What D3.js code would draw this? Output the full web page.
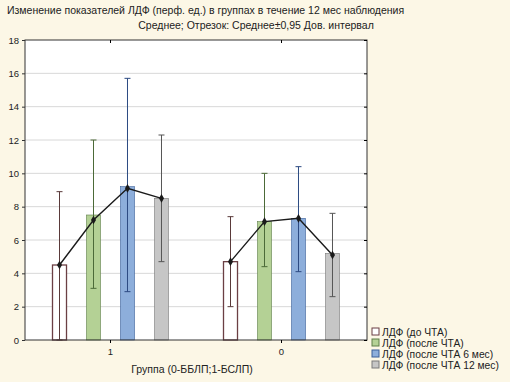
<!DOCTYPE html>
<html>
<head>
<meta charset="utf-8">
<script src="https://cdn.jsdelivr.net/npm/d3@7"></script>
<style>
  body { margin: 0; background: #fcf7e6; }
  svg { display: block; font-family: 'Liberation Sans', Arial, sans-serif; }
</style>
</head>
<body>
<div id="chart"></div>
<script>
// groups on the x axis
const groups = ['1', '0']
const series = ['ЛДФ (до ЧТА)', 'ЛДФ (после ЧТА)', 'ЛДФ (после ЧТА 6 мес)', 'ЛДФ (после ЧТА 12 мес)']

// bar means per group, in series order
const means = {
  1: [4.5, 7.5, 9.2, 8.5],
  0: [4.7, 7.1, 7.3, 5.2]
}
// line markers (mean points)
const lineMeans = {
  1: [4.5, 7.2, 9.1, 8.5],
  0: [4.7, 7.1, 7.3, 5.1]
}
// 95% CI bounds
const ciLow = {
  1: [0.0, 3.1, 2.9, 4.7],
  0: [2.0, 4.4, 4.1, 2.6]
}
const ciHigh = {
  1: [8.9, 12.0, 15.7, 12.3],
  0: [7.4, 10.0, 10.4, 7.6]
}
const yTicks = [0, 2, 4, 6, 8, 10, 12, 14, 16, 18]

const fills = ['#ffffff', '#b4d195', '#8daedb', '#c6c6c6']
const strokes = ['#6b3f44', '#5f7e49', '#3b5f98', '#7a7a7a']
const errColors = ['#5a3a3a', '#4c6a38', '#2c4a82', '#555555']

const W = 510
const H = 382
const margin = { top: 40, right: 143, bottom: 42, left: 25 }
const width = W - margin.left - margin.right
const height = H - margin.top - margin.bottom

const svg = d3.select('#chart').append('svg')
  .attr('width', W)
  .attr('height', H)

// titles
svg.append('text')
  .attr('x', 7).attr('y', 14)
  .style('font-size', '10.5px').attr('fill', '#222')
  .text('Изменение показателей ЛДФ (перф. ед.) в группах в течение 12 мес наблюдения')
svg.append('text')
  .attr('x', 256).attr('y', 29)
  .attr('text-anchor', 'middle')
  .style('font-size', '10.5px').attr('fill', '#222')
  .text('Среднее; Отрезок: Среднее±0,95 Дов. интервал')

const g = svg.append('g').attr('transform', `translate(${margin.left},${margin.top})`)

const x = d3.scaleBand().domain(groups).range([0, width])
const xs = d3.scaleBand().domain(d3.range(series.length)).range([-58, 58]).paddingInner(0.588).paddingOuter(0)
const y = d3.scaleLinear().domain([0, 18]).range([height, 0])

g.append('rect')
  .attr('width', width).attr('height', height)
  .attr('fill', '#fff')

// gridlines
g.append('g')
  .selectAll('line')
  .data(yTicks.slice(1, -1))
  .join('line')
  .attr('x1', 0).attr('x2', width)
  .attr('y1', d => y(d)).attr('y2', d => y(d))
  .attr('stroke', '#d8d8d8')

// bars
groups.forEach(gr => {
  const cx = x(gr) + x.bandwidth() / 2
  const gg = g.append('g').attr('transform', `translate(${cx},0)`)
  gg.selectAll('rect.bar')
    .data(means[gr])
    .join('rect')
    .attr('class', 'bar')
    .attr('x', (d, i) => xs(i))
    .attr('width', xs.bandwidth())
    .attr('y', d => y(d))
    .attr('height', d => y(0) - y(d))
    .attr('fill', (d, i) => fills[i])
    .attr('stroke', (d, i) => strokes[i])
    .attr('stroke-width', (d, i) => i === 0 ? 1.3 : 0.6)

  // error bars
  const eb = gg.selectAll('g.err')
    .data(means[gr].map((d, i) => ({ i, lo: ciLow[gr][i], hi: ciHigh[gr][i] })))
    .join('g')
    .attr('class', 'err')
    .attr('stroke', d => errColors[d.i])
    .attr('stroke-width', 1)
  eb.append('line')
    .attr('x1', d => xs(d.i) + xs.bandwidth() / 2).attr('x2', d => xs(d.i) + xs.bandwidth() / 2)
    .attr('y1', d => y(d.lo)).attr('y2', d => y(d.hi))
  eb.append('line')
    .attr('x1', d => xs(d.i) + xs.bandwidth() / 2 - 3).attr('x2', d => xs(d.i) + xs.bandwidth() / 2 + 3)
    .attr('y1', d => y(d.hi)).attr('y2', d => y(d.hi))
  eb.append('line')
    .attr('x1', d => xs(d.i) + xs.bandwidth() / 2 - 3).attr('x2', d => xs(d.i) + xs.bandwidth() / 2 + 3)
    .attr('y1', d => y(d.lo)).attr('y2', d => y(d.lo))

  // mean line with markers
  const pts = lineMeans[gr].map((v, i) => [xs(i) + xs.bandwidth() / 2, y(v)])
  gg.append('path')
    .attr('d', d3.line()(pts))
    .attr('fill', 'none')
    .attr('stroke', '#1a1a1a')
    .attr('stroke-width', 1.4)
  gg.selectAll('path.mk')
    .data(pts)
    .join('path')
    .attr('class', 'mk')
    .attr('transform', d => `translate(${d[0]},${d[1]})`)
    .attr('d', d3.symbol(d3.symbolDiamond, 22))
    .attr('fill', '#1a1a1a')
})

// frame
g.append('rect')
  .attr('width', width).attr('height', height)
  .attr('fill', 'none').attr('stroke', '#333').attr('stroke-width', 1)

// y axis
const yAxis = g.append('g')
  .call(d3.axisLeft(y).tickValues(yTicks).tickSize(3).tickPadding(3))
yAxis.select('.domain').remove()
yAxis.selectAll('text').style('font-size', '9.5px').attr('fill', '#222')
yAxis.selectAll('line').attr('stroke', '#333')

// right ticks
g.append('g')
  .attr('transform', `translate(${width},0)`)
  .call(d3.axisRight(y).tickValues(yTicks).tickSize(-3).tickFormat(''))
  .select('.domain').remove()

// x axis
const xAxis = g.append('g')
  .attr('transform', `translate(0,${height})`)
  .call(d3.axisBottom(x).tickSize(3).tickPadding(5))
xAxis.select('.domain').remove()
xAxis.selectAll('text').style('font-size', '9.5px').attr('fill', '#222')

g.append('g')
  .call(d3.axisTop(x).tickSize(-3).tickFormat(''))
  .select('.domain').remove()

svg.append('text')
  .attr('x', margin.left + 167).attr('y', 373)
  .attr('text-anchor', 'middle')
  .style('font-size', '10.5px').attr('fill', '#222')
  .text('Группа (0-ББЛП;1-БСЛП)')

// legend
const legend = svg.append('g').attr('transform', 'translate(372,328)')
const li = legend.selectAll('g')
  .data(series)
  .join('g')
  .attr('transform', (d, i) => `translate(0,${i * 11})`)
li.append('rect')
  .attr('x', 0).attr('y', 0).attr('width', 7).attr('height', 7)
  .attr('fill', (d, i) => fills[i])
  .attr('stroke', (d, i) => strokes[i])
li.append('text')
  .attr('x', 10).attr('y', 7.5)
  .style('font-size', '10.3px').attr('fill', '#222')
  .text(d => d)
</script>
</body>
</html>
